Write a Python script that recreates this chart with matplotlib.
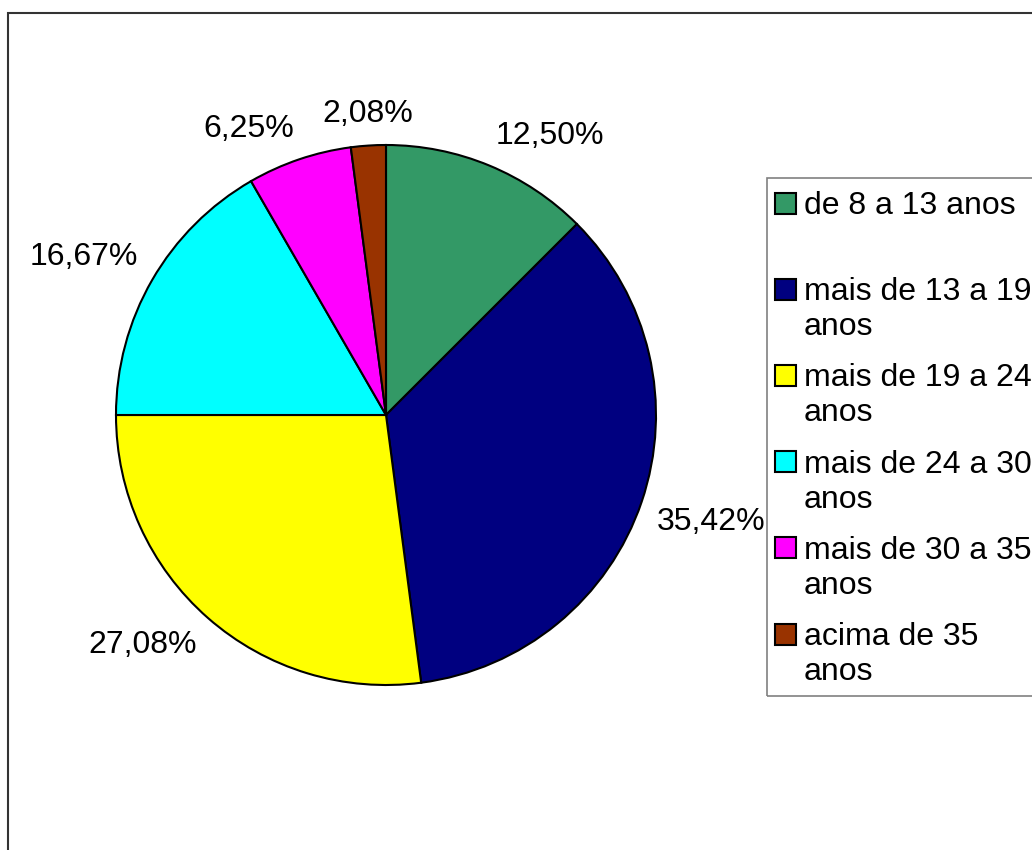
import numpy as np
import matplotlib
matplotlib.use('Agg')
import matplotlib.pyplot as plt
from matplotlib.patches import Rectangle

plt.rcParams['font.family'] = ['Liberation Sans', 'DejaVu Sans']

# dados do grafico
faixas = ['de 8 a 13 anos', 'mais de 13 a 19\nanos', 'mais de 19 a 24\nanos',
          'mais de 24 a 30\nanos', 'mais de 30 a 35\nanos', 'acima de 35\nanos']
percentuais = [12.50, 35.42, 27.08, 16.67, 6.25, 2.08]
cores = ['#339966', '#000080', '#ffff00', '#00ffff', '#ff00ff', '#993300']

W, H = 1032, 850


def fx(x):
    return x / W


def fy(y):
    return 1 - y / H


fig = plt.figure(figsize=(W / 100, H / 100), dpi=100)
fig.patch.set_facecolor('white')

# moldura externa (so aparecem topo e esquerda)
fig.patches.append(Rectangle((fx(8), fy(900)), 1.2, (900 - 13) / H,
                             transform=fig.transFigure, fill=False,
                             edgecolor='#333333', linewidth=1.5))

ax = fig.add_axes([fx(116), fy(685), 540 / W, 540 / H])
wedges, _ = ax.pie(percentuais, colors=cores, startangle=90, counterclock=False,
                   wedgeprops=dict(edgecolor='black', linewidth=1.5))
for w in wedges:
    w.set_clip_on(False)
ax.set_xlim(-1, 1)
ax.set_ylim(-1, 1)
ax.set_aspect('equal')

# rotulos de porcentagem
for w, p in zip(wedges, percentuais):
    ang = np.deg2rad((w.theta1 + w.theta2) / 2)
    c, s = np.cos(ang), np.sin(ang)
    ha = 'center' if abs(c) < 0.1 else ('left' if c > 0 else 'right')
    va = 'bottom' if s > 0 else 'top'
    ax.text(1.06 * c, 1.06 * s, ('%.2f%%' % p).replace('.', ','),
            ha=ha, va=va, fontsize=23)

# legenda desenhada a mao
fig.patches.append(Rectangle((fx(767), fy(696)), 1, (696 - 178) / H,
                             transform=fig.transFigure, fill=False,
                             edgecolor='#808080', linewidth=1.2))
for i, (rot, cor) in enumerate(zip(faixas, cores)):
    yc = 203 + i * 86.2
    fig.patches.append(Rectangle((fx(775), fy(yc + 10.5)), 21 / W, 21 / H,
                                 transform=fig.transFigure, facecolor=cor,
                                 edgecolor='black', linewidth=1.5))
    for j, linha in enumerate(rot.split('\n')):
        fig.text(fx(804), fy(yc + 11 + 35 * j), linha, fontsize=23,
                 va='baseline', ha='left')

fig.savefig('out.png', dpi=100)
